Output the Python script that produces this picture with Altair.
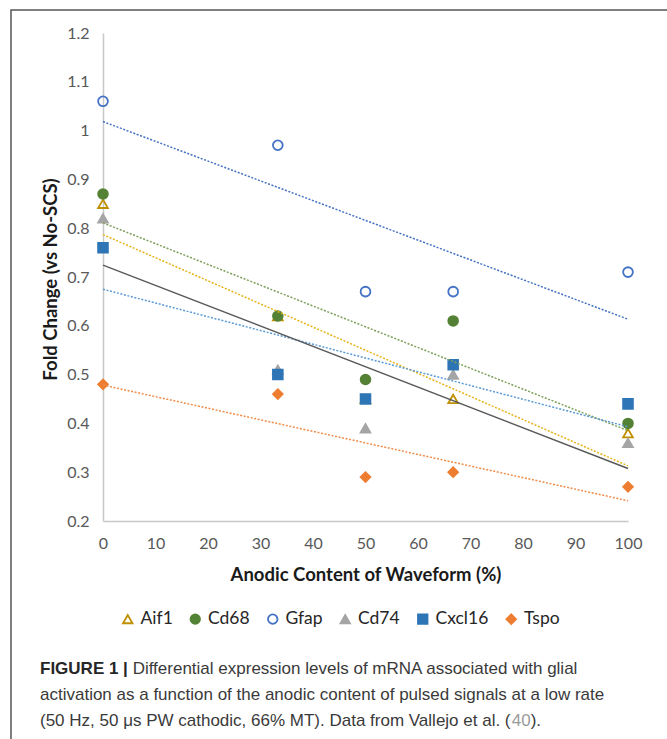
import altair as alt
import pandas as pd

# ---- data ----
genes = ["Aif1", "Cd68", "Gfap", "Cd74", "Cxcl16", "Tspo"]
anodic = [0, 33.3, 50, 66.7, 100]
aif1 = [0.85, 0.62, 0.45, 0.45, 0.38]
cd68 = [0.87, 0.62, 0.49, 0.61, 0.40]
gfap = [1.06, 0.97, 0.67, 0.67, 0.71]
cd74 = [0.82, 0.51, 0.39, 0.50, 0.36]
cxcl16 = [0.76, 0.50, 0.45, 0.52, 0.44]
tspo = [0.48, 0.46, 0.29, 0.30, 0.27]
series = [aif1, cd68, gfap, cd74, cxcl16, tspo]
solid_trend = ["Cd74"]

x_ticks = [0, 10, 20, 30, 40, 50, 60, 70, 80, 90, 100]
y_ticks = [0.2, 0.3, 0.4, 0.5, 0.6, 0.7, 0.8, 0.9, 1.0, 1.1, 1.2]

caption_bold = "FIGURE 1 |"
caption_1 = "Differential expression levels of mRNA associated with glial"
caption_2 = "activation as a function of the anodic content of pulsed signals at a low rate"
caption_3a = "(50 Hz, 50 \u03bcs PW cathodic, 66% MT). Data from Vallejo et al. ("
caption_3b = "40"
caption_3c = ")."

rows = []
for g, vals in zip(genes, series):
    for xv, yv in zip(anodic, vals):
        rows.append({"gene": g, "x": xv, "y": yv})
df = pd.DataFrame(rows)

# ---- styles ----
shapes = ["triangle-up", "circle", "circle", "triangle-up", "square", "diamond"]
fills = ["transparent", "#548235", "transparent", "#A5A5A5", "#2E75B6", "#ED7D31"]
strokes = ["#BF9000", "#548235", "#4472C4", "#A5A5A5", "#2E75B6", "#ED7D31"]
line_colors = ["#E8B31A", "#7DA05A", "#4472C4", "#595959", "#5B9BD5", "#F08C4A"]

FONT = "Lato"
CAP_FONT = "Liberation Sans"
CAP_SIZE = 17
W, H = 525, 488
OX, OY = 103, 33

legend = alt.Legend(
    title=None, orient="none", direction="horizontal",
    legendX=16, legendY=577, symbolSize=90, symbolStrokeWidth=1.8,
    labelFont=FONT, labelFontSize=17.5, labelColor="#262626",
    labelOffset=4, columnPadding=13.5,
)

xenc = alt.X("x:Q", scale=alt.Scale(domain=[0, 100], nice=False),
             axis=alt.Axis(values=x_ticks, title="Anodic Content of Waveform (%)",
                           titleY=44, labelFlush=False))
yenc = alt.Y("y:Q", scale=alt.Scale(domain=[0.2, 1.2], nice=False, zero=False),
             axis=alt.Axis(values=y_ticks, format=".1~f",
                           title="Fold Change (vs No-SCS)",
                           titleX=-53, titleY=246, titleAngle=-90,
                           titleBaseline="middle", titleAlign="center",
                           labelFlush=False))

base = alt.Chart(df)

points = base.mark_point(opacity=1, strokeWidth=1.8, size=95).encode(
    x=xenc, y=yenc,
    shape=alt.Shape("gene:N", scale=alt.Scale(domain=genes, range=shapes), legend=legend),
    fill=alt.Fill("gene:N", scale=alt.Scale(domain=genes, range=fills), legend=legend),
    stroke=alt.Stroke("gene:N", scale=alt.Scale(domain=genes, range=strokes), legend=legend),
)

line_color = alt.Color("gene:N", scale=alt.Scale(domain=genes, range=line_colors), legend=None)

trend_dotted = base.transform_filter(
    alt.FieldOneOfPredicate(field="gene", oneOf=[g for g in genes if g not in solid_trend])
).transform_regression("x", "y", groupby=["gene"], extent=[0, 100]).mark_line(
    strokeWidth=1.5, strokeDash=[2, 1.6]
).encode(x="x:Q", y="y:Q", color=line_color)

trend_solid = base.transform_filter(
    alt.FieldOneOfPredicate(field="gene", oneOf=solid_trend)
).transform_regression("x", "y", groupby=["gene"], extent=[0, 100]).mark_line(
    strokeWidth=1.4
).encode(x="x:Q", y="y:Q", color=line_color)

# frame around the figure panel (decoration)
frame = alt.Chart(pd.DataFrame({"k": [0]})).mark_rect(
    fill="transparent", stroke="#555555", strokeWidth=1.5
).encode(
    x=alt.value(11 - OX), x2=alt.value(700 - OX),
    y=alt.value(10 - OY), y2=alt.value(780 - OY),
)

cap_df = pd.DataFrame({"k": [0]})
def cap(text, x, y, weight="normal", color="#3a3a3a"):
    return alt.Chart(cap_df).mark_text(
        text=text, align="left", baseline="middle", font=CAP_FONT,
        fontSize=CAP_SIZE, fontWeight=weight, color=color,
    ).encode(x=alt.value(x - OX), y=alt.value(y - OY))

x3b = 40 + 27.752 * CAP_SIZE
x3c = x3b + 1.112 * CAP_SIZE
captions = (
    cap(caption_bold, 40, 669, "bold", "#262626")
    + cap(caption_1, 40 + 5.45 * CAP_SIZE, 669)
    + cap(caption_2, 40, 695)
    + cap(caption_3a, 40, 721)
    + cap(caption_3b, x3b, 721, color="#9a9a9a")
    + cap(caption_3c, x3c, 721)
)

chart = alt.layer(frame, points, trend_dotted, trend_solid, captions).properties(
    width=W, height=H,
    autosize=alt.AutoSizeParams(type="none"),
    padding={"left": OX, "top": OY, "right": 667 - OX - W, "bottom": 739 - OY - H},
).configure_view(stroke=None).configure_axis(
    grid=False, ticks=False, domainColor="#C8C8C8", domainWidth=1.5,
    labelFont=FONT, labelFontSize=16, labelColor="#595959",
    titleFont=FONT, titleFontSize=18.5, titleFontWeight="bold", titleColor="#1a1a1a",
).configure_axisY(labelPadding=14).configure_axisX(labelPadding=14)

chart.save("out.html", embed_options={"renderer": "svg", "actions": False})
